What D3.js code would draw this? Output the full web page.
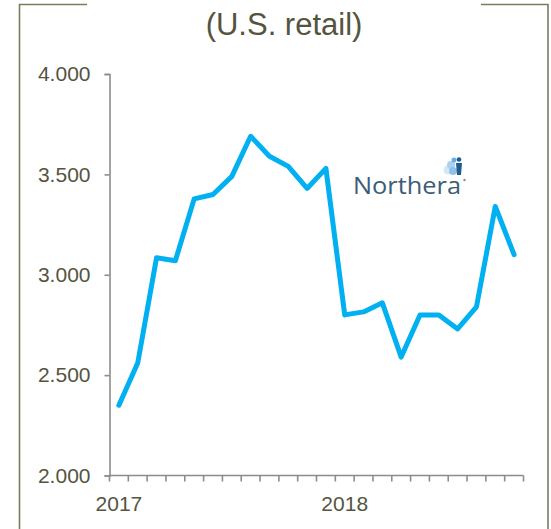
<!DOCTYPE html>
<html>
<head>
<meta charset="utf-8">
<script src="https://cdn.jsdelivr.net/npm/d3@7"></script>
<style>
    body { margin: 0; background: #fff; }
    svg { display: block; font-family: "Liberation Sans", Arial, sans-serif; }
</style>
</head>
<body>
<div id="chart"></div>
<script>

// monthly sales, Jan 2017 .. Oct 2018
var months = [ '2017-01', '2017-02', '2017-03', '2017-04', '2017-05', '2017-06',
               '2017-07', '2017-08', '2017-09', '2017-10', '2017-11', '2017-12',
               '2018-01', '2018-02', '2018-03', '2018-04', '2018-05', '2018-06',
               '2018-07', '2018-08', '2018-09', '2018-10' ];
var sales = [ 2350, 2560, 3085, 3070, 3378, 3400, 3490, 3690, 3590, 3540, 3430, 3530,
              2800, 2815, 2860, 2590, 2800, 2800, 2730, 2840, 3340, 3100 ];
var yTicks = [ 2000, 2500, 3000, 3500, 4000 ];
var yearLabels = [ { month: '2017-01', text: '2017' }, { month: '2018-01', text: '2018' } ];
var title = '(U.S. retail)';

var width = 551,
    height = 529;

var textColor = '#545441',
    axisColor = '#8c8c8c',
    frameColor = '#7e7c5e';

var svg = d3.select('#chart').append('svg')
    .attr('width', width)
    .attr('height', height);

// frame with a gap for the title
svg.append('path')
    .attr('d', 'M87,4.5H19.5V529M481,4.5H548V529')
    .attr('fill', 'none')
    .attr('stroke', frameColor)
    .attr('stroke-width', 1.6);

svg.append('text')
    .attr('x', 284)
    .attr('y', 35)
    .attr('text-anchor', 'middle')
    .style('font-size', '31px')
    .style('fill', textColor)
    .text( title );

var x = d3.scaleBand()
    .domain( months )
    .range([ 109.5, 523.5 ]);

var y = d3.scaleLinear()
    .domain([ 2000, 4000 ])
    .range([ 475.5, 74 ]);

var locale = d3.formatLocale({ decimal: ',', thousands: '.', grouping: [3], currency: ['', ''] });
var fmt = locale.format(',d');

// y axis
var yAxis = svg.append('g')
    .attr('transform', 'translate(109.5,0)')
    .call( d3.axisLeft( y ).tickValues( yTicks ).tickSize( 5 ).tickPadding( 14 ).tickFormat( fmt ) );

yAxis.select('.domain').attr('stroke', axisColor).attr('stroke-width', 1.6);
yAxis.selectAll('.tick line').attr('stroke', axisColor).attr('stroke-width', 1.6);
yAxis.selectAll('.tick text')
    .style('font-size', '21px')
    .style('font-family', '"Liberation Sans", Arial, sans-serif')
    .attr('fill', textColor);

// x axis (category edges)
var xg = svg.append('g');

xg.append('line')
    .attr('x1', x.range()[0])
    .attr('x2', x.range()[1])
    .attr('y1', y( 2000 ))
    .attr('y2', y( 2000 ))
    .attr('stroke', axisColor)
    .attr('stroke-width', 1.6);

var edges = months.map( function ( m ) { return x( m ) } ).concat([ x.range()[1] ]);

xg.selectAll('.xtick')
    .data( edges )
    .enter().append('line')
    .attr('class', 'xtick')
    .attr('x1', function ( d ) { return d })
    .attr('x2', function ( d ) { return d })
    .attr('y1', y( 2000 ))
    .attr('y2', y( 2000 ) + 6)
    .attr('stroke', axisColor)
    .attr('stroke-width', 1.6);

xg.selectAll('.year')
    .data( yearLabels )
    .enter().append('text')
    .attr('class', 'year')
    .attr('x', function ( d ) { return x( d.month ) + x.bandwidth() / 2 })
    .attr('y', 510.5)
    .attr('text-anchor', 'middle')
    .style('font-size', '21px')
    .style('fill', textColor)
    .text( function ( d ) { return d.text });

// sales line
var line = d3.line()
    .x( function ( d, i ) { return x( months[ i ] ) + x.bandwidth() / 2 })
    .y( function ( d ) { return y( d ) });

svg.append('path')
    .datum( sales )
    .attr('d', line)
    .attr('fill', 'none')
    .attr('stroke', '#00b0f0')
    .attr('stroke-width', 5)
    .attr('stroke-linejoin', 'round')
    .attr('stroke-linecap', 'round');

// logo
var logo = svg.append('g');

logo.append('circle').attr('cx', 448).attr('cy', 170).attr('r', 4.5).attr('fill', '#d3e8f7');
logo.append('circle').attr('cx', 451).attr('cy', 165).attr('r', 4).attr('fill', '#a9d1f0');
logo.append('circle').attr('cx', 453).attr('cy', 171).attr('r', 4).attr('fill', '#8fc2ea');
logo.append('circle').attr('cx', 454).attr('cy', 160).attr('r', 2.5).attr('fill', '#6aaee3');
logo.append('circle').attr('cx', 459).attr('cy', 159.5).attr('r', 2.3).attr('fill', '#1d5d90');
logo.append('path')
    .attr('d', 'M456,163 L462,163 L461,175 L457,175 Z')
    .attr('fill', '#1d5d90');

logo.append('text')
    .attr('x', 353)
    .attr('y', 194)
    .attr('textLength', 108)
    .attr('lengthAdjust', 'spacingAndGlyphs')
    .style('font-family', '"Open Sans", "Noto Sans", sans-serif')
    .style('font-size', '24px')
    .style('fill', '#3b5d78')
    .text('Northera');

logo.append('circle')
    .attr('cx', 464.5).attr('cy', 180).attr('r', 1.2)
    .attr('fill', '#7a8fa0');

</script>
</body>
</html>
